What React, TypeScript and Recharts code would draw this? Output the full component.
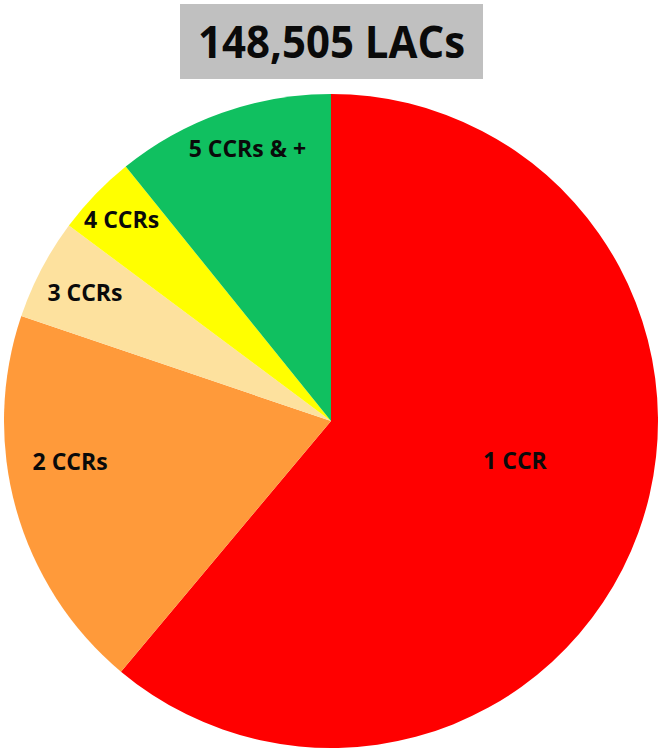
import React from "react";
import { PieChart, Pie, Cell } from "recharts";

const categories = ["1 CCR", "2 CCRs", "3 CCRs", "4 CCRs", "5 CCRs & +"];
const shares = [61.1, 19.1, 5.0, 4.0, 10.8];
const colors = ["#FF0000", "#FF9A3A", "#FDE19E", "#FFFF00", "#10C060"];
const title = "148,505 LACs";

const data = categories.map((name, i) => ({ name, value: shares[i] }));

// label placement tweaks relative to each slice's mid angle (deg) and radius fraction
const labelAdjust = [
  { dAngle: 8, f: 0.575 },
  { dAngle: -7, f: 0.807 },
  { dAngle: 0, f: 0.85 },
  { dAngle: 0, f: 0.889 },
  { dAngle: -2.4, f: 0.873 },
];

const RAD = Math.PI / 180;

const renderLabel = (props: any) => {
  const { cx, cy, midAngle, outerRadius, index, name } = props;
  const adj = labelAdjust[index] || { dAngle: 0, f: 0.7 };
  const a = (midAngle + adj.dAngle) * RAD;
  const r = outerRadius * adj.f;
  const x = cx + r * Math.cos(-a);
  const y = cy + r * Math.sin(-a);
  return (
    <text
      x={x}
      y={y}
      textAnchor="middle"
      dominantBaseline="central"
      fill="#0a0a0a"
      fontFamily="'Open Sans', sans-serif"
      fontWeight={700}
      fontSize={23}
    >
      {name}
    </text>
  );
};

export default function App() {
  return (
    <div style={{ position: "absolute", left: 0, top: 0, width: 665, height: 756, background: "#fff" }}>
      <div style={{ position: "absolute", left: 0, top: 0 }}>
        <PieChart width={665} height={756} margin={{ top: 0, right: 0, bottom: 0, left: 0 }}>
          <Pie
            data={data}
            dataKey="value"
            nameKey="name"
            cx={331}
            cy={421}
            outerRadius={327}
            startAngle={90}
            endAngle={-270}
            stroke="none"
            isAnimationActive={false}
            labelLine={false}
            label={renderLabel}
          >
            {data.map((d, i) => (
              <Cell key={d.name} fill={colors[i]} />
            ))}
          </Pie>
        </PieChart>
      </div>
      <svg
        width={665}
        height={90}
        style={{ position: "absolute", left: 0, top: 0 }}
      >
        <rect x={180} y={4} width={303} height={75} fill="#C0C0C0" />
        <text
          x={331.5}
          y={58}
          textAnchor="middle"
          fontFamily="'Open Sans', sans-serif"
          fontWeight={700}
          fontSize={45}
          fill="#0a0a0a"
          textLength={267}
          lengthAdjust="spacingAndGlyphs"
        >
          {title}
        </text>
      </svg>
    </div>
  );
}
